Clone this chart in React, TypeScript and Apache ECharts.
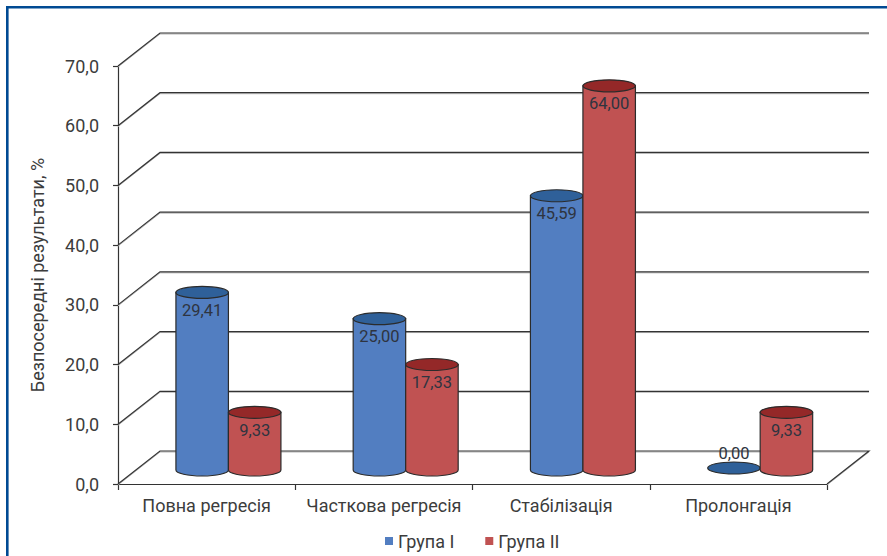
import React, { useEffect, useRef } from "react";
import * as echarts from "echarts";

const categories = ["Повна регресія", "Часткова регресія", "Стабілізація", "Пролонгація"];
const groupOneValues = [29.41, 25.0, 45.59, 0.0];
const groupTwoValues = [9.33, 17.33, 64.0, 9.33];
const valueTicks = [0, 10, 20, 30, 40, 50, 60, 70];

const FONT = "Roboto";
const TEXT = "#3c3c3c";
const INK = "#2b2b2b";
const BLUE = "#527ec1";
const BLUE_CAP = "#2f6099";
const RED = "#c05252";
const RED_CAP = "#942828";
const DEPTH_X = 42;
const DEPTH_Y = 33;
const CYL_WIDTH = 52.5;
const CYL_RY = 6;
const FLOOR_X = 21.8;
const FLOOR_Y = 16;

const comma = (v: number, digits: number) => v.toFixed(digits).replace(".", ",");

// Perspective wall and floor lines: one polyline per tick value.
const wallItem = (_: any, api: any) => {
  const v = api.value(0);
  const band = api.size([1, 0])[0];
  const p = api.coord([0, v]);
  const left = p[0] - band / 2;
  const right = left + band * categories.length;
  const y = p[1];
  const pts = [[left, y], [left + DEPTH_X, y - DEPTH_Y], [right + DEPTH_X, y - DEPTH_Y]];
  if (v === 0) pts.push([right, y]);
  return {
    type: "group",
    children: [
      { type: "polyline", shape: { points: pts.map(([a, b]) => [a, b + 1]) }, style: { stroke: "#b5b5b5", lineWidth: 1, fill: "none" } },
      { type: "polyline", shape: { points: pts }, style: { stroke: "#333333", lineWidth: 1.2, fill: "none" } },
    ],
  };
};

// A cylinder standing on the floor, with its value printed on the side.
const cylinderItem = (offset: number, body: string, cap: string) => (_: any, api: any) => {
  const i = api.value(0);
  const v = api.value(1);
  const base = api.coord([i, 0]);
  const top = api.coord([i, v]);
  const cx = base[0] + FLOOR_X + offset;
  const l = cx - CYL_WIDTH / 2;
  const r = cx + CYL_WIDTH / 2;
  const topY = top[1] - FLOOR_Y;
  const botY = base[1] - FLOOR_Y + 2;
  const children: any[] = [];
  if (v > 0) {
    children.push({
      type: "path",
      shape: { pathData: `M${l} ${topY}L${l} ${botY}A${CYL_WIDTH / 2} ${CYL_RY} 0 0 0 ${r} ${botY}L${r} ${topY}Z` },
      style: { fill: body, stroke: INK, lineWidth: 1.2 },
    });
  }
  children.push({
    type: "ellipse",
    shape: { cx, cy: topY, rx: CYL_WIDTH / 2, ry: CYL_RY },
    style: { fill: cap, stroke: INK, lineWidth: 1.2 },
  });
  children.push({
    type: "text",
    style: {
      x: cx,
      y: v > 0 ? topY + 18 : topY - 15,
      text: comma(v, 2),
      fill: "#2e3440",
      font: `16.5px ${FONT}`,
      align: "center",
      verticalAlign: "middle",
    },
  });
  return { type: "group", children };
};

const option: any = {
  animation: false,
  backgroundColor: "#ffffff",
  grid: { left: 118, right: 60, top: 66, bottom: 72 },
  graphic: [
    { type: "rect", shape: { x: 6, y: 6, width: 881, height: 2.6 }, style: { fill: "#004a93" }, z: 10 },
    { type: "rect", shape: { x: 6, y: 6, width: 2.6, height: 550 }, style: { fill: "#004a93" }, z: 10 },
  ],
  legend: {
    bottom: 1,
    left: 380,
    itemWidth: 8,
    itemHeight: 8,
    itemGap: 31,
    icon: "rect",
    textStyle: { fontFamily: FONT, fontSize: 18, color: TEXT },
    data: [
      { name: "Група I", itemStyle: { color: BLUE } },
      { name: "Група II", itemStyle: { color: RED } },
    ],
  },
  xAxis: {
    type: "category",
    data: categories,
    axisLine: { lineStyle: { color: "#333333", width: 1.2 } },
    axisTick: { show: true, interval: 0, length: 6, lineStyle: { color: "#333333", width: 1.2 } },
    axisLabel: { interval: 0, hideOverlap: false, fontFamily: FONT, fontSize: 18, color: TEXT, margin: 12 },
  },
  yAxis: {
    type: "value",
    min: 0,
    max: 70,
    interval: 10,
    name: "Безпосередні результати, %",
    nameLocation: "middle",
    nameGap: 72,
    nameTextStyle: { fontFamily: FONT, fontSize: 18, color: TEXT },
    splitLine: { show: false },
    axisLine: { show: true, lineStyle: { color: "#333333", width: 1.2 } },
    axisTick: { show: true, length: 5, lineStyle: { color: "#333333", width: 1.2 } },
    axisLabel: {
      fontFamily: FONT,
      fontSize: 18,
      color: TEXT,
      margin: 19,
      formatter: (v: number) => comma(v, 1),
    },
  },
  series: [
    { type: "custom", name: "wall", silent: true, z: 1, renderItem: wallItem, data: valueTicks.map((v) => [v]), encode: { y: 0 } },
    {
      type: "custom",
      name: "Група I",
      z: 3,
      itemStyle: { color: BLUE },
      renderItem: cylinderItem(-CYL_WIDTH / 2, BLUE, BLUE_CAP),
      data: groupOneValues.map((v, i) => [i, v]),
      encode: { x: 0, y: 1 },
    },
    {
      type: "custom",
      name: "Група II",
      z: 4,
      itemStyle: { color: RED },
      renderItem: cylinderItem(CYL_WIDTH / 2, RED, RED_CAP),
      data: groupTwoValues.map((v, i) => [i, v]),
      encode: { x: 0, y: 1 },
    },
  ],
};

export default function App() {
  const ref = useRef<HTMLDivElement>(null);
  useEffect(() => {
    const chart = echarts.init(ref.current!, undefined, { renderer: "svg" });
    chart.setOption(option);
    return () => chart.dispose();
  }, []);
  return <div ref={ref} style={{ position: "absolute", left: 0, top: 0, width: 887, height: 556 }} />;
}
